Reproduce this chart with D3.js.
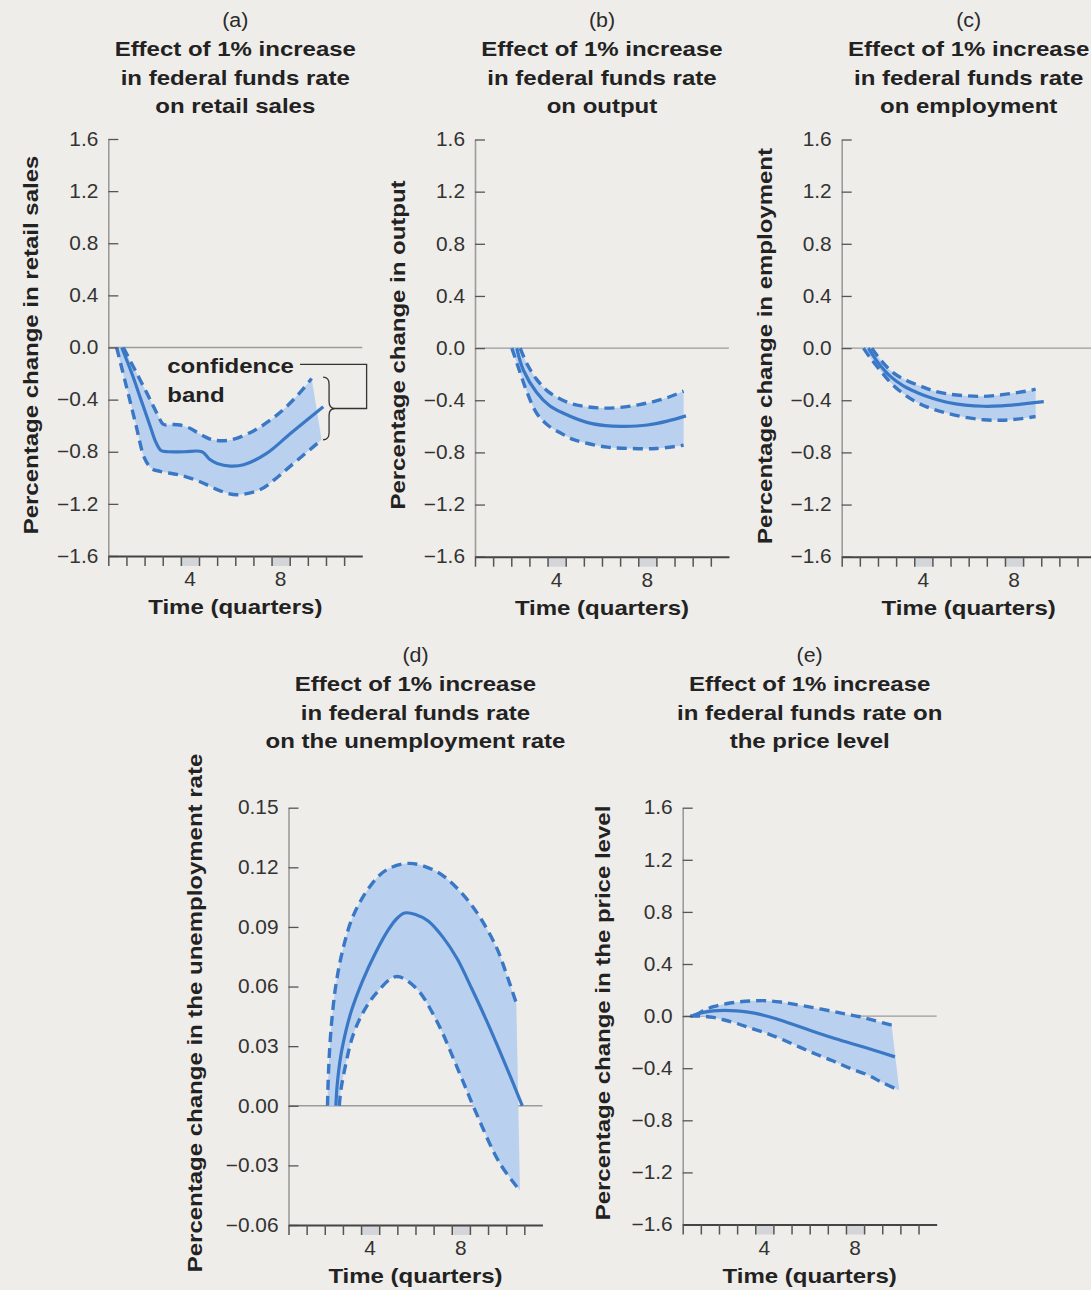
<!DOCTYPE html>
<html><head><meta charset="utf-8">
<script src="https://cdn.jsdelivr.net/npm/d3@7"></script>
<style>
body{margin:0;background:#efede9;}
svg{display:block;font-family:"Liberation Sans",Arial,Helvetica,sans-serif;}
</style></head><body>
<svg id="chart" width="1091" height="1290"></svg>
<script>
// ---------- DATA ----------
const yTicksMain = [1.6, 1.2, 0.8, 0.4, 0, -0.4, -0.8, -1.2, -1.6];
const yTicksUnemp = [0.15, 0.12, 0.09, 0.06, 0.03, 0, -0.03, -0.06];
const xMinorTicks = d3.range(0, 14);           // quarter boundaries
const xLabelBins = [[4, "4"], [9, "8"]];        // shaded/labelled bins [i, i+1]

const meanA  = [[0.74,0],[1.3,-0.2],[1.8,-0.4],[2.3,-0.6],[2.6,-0.72],[2.9,-0.79],[3.3,-0.8],[4.2,-0.8],[5.16,-0.8],[5.6,-0.86],[6.0,-0.89],[6.72,-0.91],[7.46,-0.9],[8.75,-0.81],[10.04,-0.66],[11.85,-0.455]];
const upperA = [[0.83,0],[1.5,-0.18],[2.2,-0.37],[2.7,-0.51],[3.04,-0.59],[3.5,-0.59],[3.96,-0.595],[4.5,-0.62],[4.88,-0.65],[5.4,-0.69],[5.8,-0.71],[6.72,-0.71],[8.0,-0.64],[9.0,-0.55],[9.85,-0.45],[10.6,-0.34],[11.21,-0.238]];
const lowerA = [[0.46,0],[1.0,-0.3],[1.5,-0.58],[2.0,-0.85],[2.4,-0.93],[2.85,-0.95],[3.96,-0.98],[5.06,-1.03],[6.17,-1.1],[7.09,-1.13],[8.38,-1.09],[9.2,-1.01],[10.04,-0.91],[11.76,-0.708]];

const meanB  = [[2.3,0],[2.67,-0.17],[3.4,-0.34],[4.1,-0.44],[4.88,-0.5],[6.17,-0.57],[7.2,-0.595],[8.2,-0.6],[9.5,-0.59],[10.6,-0.56],[11.63,-0.52]];
const upperB = [[2.49,0],[2.9,-0.13],[3.4,-0.24],[4.0,-0.33],[4.7,-0.39],[5.4,-0.43],[6.17,-0.45],[7.0,-0.46],[8.0,-0.455],[9.0,-0.435],[9.85,-0.41],[10.7,-0.375],[11.5,-0.33]];
const lowerB = [[2.03,0],[2.49,-0.19],[2.9,-0.35],[3.4,-0.5],[4.0,-0.59],[4.7,-0.65],[5.4,-0.7],[6.17,-0.73],[7.3,-0.76],[8.56,-0.77],[10.0,-0.77],[11.5,-0.745]];

const meanC  = [[1.47,0],[2.0,-0.11],[2.67,-0.215],[3.4,-0.29],[4.14,-0.34],[5.0,-0.385],[5.8,-0.415],[6.8,-0.437],[7.83,-0.446],[8.8,-0.443],[9.67,-0.433],[10.5,-0.42],[11.14,-0.41]];
const upperC = [[1.66,0],[2.2,-0.1],[2.85,-0.19],[3.6,-0.25],[4.33,-0.29],[5.0,-0.325],[5.8,-0.35],[6.8,-0.365],[7.83,-0.37],[8.7,-0.36],[9.48,-0.345],[10.2,-0.33],[10.69,-0.315]];
const lowerC = [[1.2,0],[1.6,-0.08],[2.12,-0.17],[2.8,-0.28],[3.6,-0.37],[4.5,-0.44],[5.43,-0.485],[6.6,-0.525],[7.83,-0.55],[8.8,-0.553],[9.67,-0.545],[10.69,-0.525]];

const meanD  = [[2.61,0],[2.68,0.01],[2.8,0.02],[2.98,0.03],[3.44,0.047],[4.09,0.063],[4.8,0.077],[5.5,0.0885],[6.0,0.0945],[6.4,0.097],[7.0,0.0963],[7.7,0.093],[8.5,0.085],[9.3,0.074],[10.1,0.059],[10.9,0.0432],[11.9,0.022],[12.89,0]];
const upperD = [[2.15,0],[2.21,0.018],[2.34,0.038],[2.6,0.06],[2.98,0.078],[3.54,0.095],[4.46,0.11],[5.38,0.1186],[6.67,0.122],[8.14,0.118],[9.24,0.11],[10.35,0.0977],[11.45,0.08],[12.0,0.0667],[12.56,0.0516]];
const lowerD = [[2.8,0],[2.89,0.008],[3.17,0.0215],[3.54,0.035],[4.09,0.0466],[4.83,0.0566],[5.93,0.065],[7.03,0.0592],[8.14,0.0432],[9.43,0.0164],[10.35,-0.0037],[11.64,-0.0288],[12.76,-0.0427]];

const meanE  = [[0.5,0],[1.0,0.025],[1.69,0.04],[2.3,0.044],[2.98,0.04],[3.6,0.03],[4.27,0.013],[5.2,-0.022],[6.1,-0.065],[7.2,-0.118],[8.3,-0.168],[9.3,-0.21],[10.5,-0.26],[11.7,-0.313]];
const upperE = [[0.68,0],[1.1,0.04],[1.69,0.072],[2.4,0.095],[3.17,0.11],[3.9,0.117],[4.64,0.118],[5.4,0.108],[6.1,0.092],[7.2,0.065],[8.3,0.035],[9.0,0.015],[9.77,-0.005],[10.6,-0.035],[11.52,-0.07]];
const lowerE = [[0.4,0],[1.0,0.0],[1.69,-0.01],[2.3,-0.03],[2.98,-0.056],[3.8,-0.095],[4.64,-0.133],[5.5,-0.18],[6.48,-0.24],[7.4,-0.295],[8.3,-0.345],[9.2,-0.4],[10.17,-0.45],[11.0,-0.51],[11.94,-0.57]];

// ---------- LAYOUT ----------
const svg = d3.select("#chart");
svg.append("rect").attr("width", 1091).attr("height", 1290).attr("fill", "#efede9");

const LINE = "#3a78c6", FILL = "#b9d1ee";
const UNIT = 18.14;
const BOLD_STRETCH = 1.2, REG_STRETCH = 1.07;

function boldText(g, x, y, txt, opts = {}) {
  const rot = opts.rotate ? " rotate(-90)" : "";
  return g.append("text")
    .attr("transform", `translate(${x},${y})${rot} scale(${BOLD_STRETCH},1)`)
    .attr("text-anchor", opts.anchor || "middle")
    .attr("font-size", 20).attr("font-weight", "bold").attr("fill", "#222").text(txt);
}
function regText(g, x, y, txt, anchor = "middle") {
  return g.append("text").attr("transform", `translate(${x},${y}) scale(${REG_STRETCH},1)`)
    .attr("text-anchor", anchor).attr("font-size", 19.5).attr("fill", "#333").text(txt);
}

const panels = [
  {letter:"(a)", title:["Effect of 1% increase","in federal funds rate","on retail sales"], ylabel:"Percentage change in retail sales",
   x0:108.3, yTop:139, yBot:556, dom:[-1.6,1.6], ticks:yTicksMain, fmt:d3.format(".1f"),
   titleY:27, ylabX:38.3, ylabY:345, mean:meanA, upper:upperA, lower:lowerA},
  {letter:"(b)", title:["Effect of 1% increase","in federal funds rate","on output"], ylabel:"Percentage change in output",
   x0:475, yTop:139.5, yBot:556.7, dom:[-1.6,1.6], ticks:yTicksMain, fmt:d3.format(".1f"),
   titleY:27, ylabX:405, ylabY:345, mean:meanB, upper:upperB, lower:lowerB},
  {letter:"(c)", title:["Effect of 1% increase","in federal funds rate","on employment"], ylabel:"Percentage change in employment",
   x0:841.7, yTop:139.5, yBot:556.7, dom:[-1.6,1.6], ticks:yTicksMain, fmt:d3.format(".1f"),
   titleY:27, ylabX:771.7, ylabY:346, mean:meanC, upper:upperC, lower:lowerC},
  {letter:"(d)", title:["Effect of 1% increase","in federal funds rate","on the unemployment rate"], ylabel:"Percentage change in the unemployment rate",
   x0:288.5, yTop:807.7, yBot:1225, dom:[-0.06,0.15], ticks:yTicksUnemp, fmt:d3.format(".2f"),
   titleY:662, ylabX:201.7, ylabY:1013, mean:meanD, upper:upperD, lower:lowerD},
  {letter:"(e)", title:["Effect of 1% increase","in federal funds rate on","the price level"], ylabel:"Percentage change in the price level",
   x0:682.7, yTop:807.7, yBot:1224.5, dom:[-1.6,1.6], ticks:yTicksMain, fmt:d3.format(".1f"),
   titleY:662, ylabX:610, ylabY:1013, mean:meanE, upper:upperE, lower:lowerE}
];

function drawPanel(p) {
  const g = svg.append("g");
  const x = d3.scaleLinear().domain([0, 14]).range([p.x0, p.x0 + 14 * UNIT]);
  const y = d3.scaleLinear().domain(p.dom).range([p.yBot, p.yTop]);
  const cx = p.x0 + 7 * UNIT;

  // titles
  regText(g, cx, p.titleY, p.letter).attr("font-size", 20).attr("fill", "#2a2a2a");
  p.title.forEach((t, i) => boldText(g, cx, p.titleY + 29 + i * 28.5, t));

  // y-label
  boldText(g, p.ylabX, p.ylabY, p.ylabel, {rotate: true});

  // shaded bins
  g.selectAll("rect.bin").data(xLabelBins).join("rect").attr("class", "bin")
    .attr("x", d => x(d[0])).attr("width", d => x(d[0] + 1) - x(d[0]))
    .attr("y", p.yBot).attr("height", 10).attr("fill", "#d3d5d8");

  // zero line
  g.append("line").attr("x1", x(0)).attr("x2", x(14)).attr("y1", y(0)).attr("y2", y(0))
    .attr("stroke", "#9b9b9b").attr("stroke-width", 1.3);

  // band
  const line = d3.line().x(d => x(d[0])).y(d => y(d[1])).curve(d3.curveCatmullRom.alpha(0.5));
  const up = line(p.upper);
  const lo = line(p.lower.slice().reverse());
  g.append("path").attr("d", up + "L" + lo.slice(1) + "Z").attr("fill", FILL).attr("stroke", "none");
  [p.upper, p.lower].forEach(s => g.append("path").attr("d", line(s)).attr("fill", "none")
    .attr("stroke", LINE).attr("stroke-width", 3.4).attr("stroke-dasharray", "10,6"));
  g.append("path").attr("d", line(p.mean)).attr("fill", "none").attr("stroke", LINE).attr("stroke-width", 3.2);

  // y axis
  const ya = g.append("g").attr("transform", `translate(${p.x0},0)`)
    .call(d3.axisLeft(y).tickValues(p.ticks).tickSize(-10).tickSizeOuter(0).tickPadding(10 / REG_STRETCH).tickFormat(p.fmt));
  ya.select(".domain").attr("stroke", "#9b9b9b").attr("stroke-width", 1.6);
  ya.selectAll(".tick line").attr("stroke", "#555").attr("stroke-width", 1.3);
  ya.selectAll(".tick text").attr("font-size", 19.5).attr("fill", "#333")
    .attr("transform", `scale(${REG_STRETCH},1)`)
    .attr("font-family", '"Liberation Sans",Arial,sans-serif');

  // x axis
  const xa = g.append("g").attr("transform", `translate(0,${p.yBot})`)
    .call(d3.axisBottom(x).tickValues(xMinorTicks).tickSize(10).tickSizeOuter(0).tickFormat(""));
  xa.select(".domain").attr("stroke", "#444").attr("stroke-width", 2);
  xa.selectAll(".tick line").attr("stroke", "#555").attr("stroke-width", 1.5);

  xLabelBins.forEach(d => regText(g, x(d[0] + 0.5), p.yBot + 30, d[1]));

  boldText(g, cx, p.yBot + 58, "Time (quarters)");

  return {x, y, g};
}

const drawn = panels.map(drawPanel);

// confidence band annotation (panel a)
(function () {
  const {x, y, g} = drawn[0];
  const xb = x(11.84), w = x(12.5) - x(11.84), xm = xb + w / 2;
  const yT = y(-0.228), yB = y(-0.708), yM = y(-0.468), r = 7;
  g.append("path").attr("d",
      `M${xb},${yT}Q${xm},${yT} ${xm},${yT + r}L${xm},${yM - r}Q${xm},${yM} ${xb + w},${yM}` +
      `Q${xm},${yM} ${xm},${yM + r}L${xm},${yB - r}Q${xm},${yB} ${xb},${yB}`)
    .attr("fill", "none").attr("stroke", "#333").attr("stroke-width", 1.3);
  g.append("path").attr("d", `M${xb + w},${yM}H${x(14.24)}V${y(-0.13)}H${x(10.57)}`)
    .attr("fill", "none").attr("stroke", "#333").attr("stroke-width", 1.3);
  boldText(g, x(3.25), y(-0.195), "confidence", {anchor: "start"});
  boldText(g, x(3.25), y(-0.42), "band", {anchor: "start"});
})();
</script>
</body></html>
